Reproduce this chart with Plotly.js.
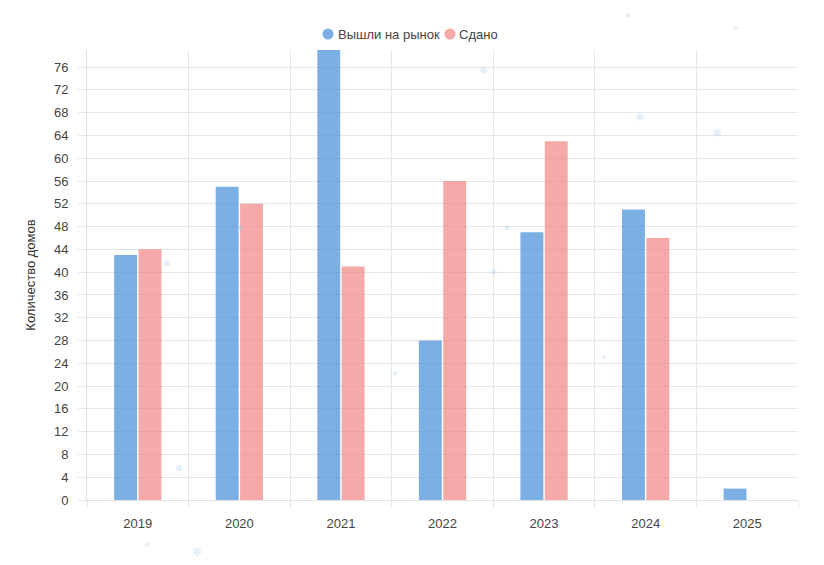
<!DOCTYPE html>
<html>
<head>
<meta charset="utf-8">
<script src="https://cdn.plot.ly/plotly-3.0.1.min.js"></script>
<style>
html,body{margin:0;padding:0;background:#fff;}
#chart{width:824px;height:565px;}
</style>
</head>
<body>
<div id="chart"></div>
<script>
const years = ["2019","2020","2021","2022","2023","2024","2025"];
const launched = [43, 55, 79, 28, 47, 51, 2];
const delivered = [44, 52, 41, 56, 63, 46, 0];
const seriesNames = ["Вышли на рынок", "Сдано"];
const yTicks = [0,4,8,12,16,20,24,28,32,36,40,44,48,52,56,60,64,68,72,76];
const colors = ["rgba(74,144,217,0.72)", "rgba(240,128,128,0.68)"];

const font = "'Liberation Sans', Arial, Helvetica, sans-serif";

const traces = [
  {type:"bar", x:years, y:launched, name:seriesNames[0],
   marker:{color:colors[0], line:{width:0}}, hoverinfo:"x+y"},
  {type:"bar", x:years, y:delivered, name:seriesNames[1],
   marker:{color:colors[1], line:{width:0}}, hoverinfo:"x+y"}
];

// plot area in pixels (for paper-coordinate decorations)
const PL = 87, PW = 711, PT = 50, PH = 450;
const px = v => (v - PL) / PW;
const py = v => (PT + PH - v) / PH;

// custom legend: circle markers + labels (Chart.js-like)
const legendItems = [{cx:328, tx:336}, {cx:450, tx:457}];
const shapes = legendItems.map((it, i) => ({
  type:"circle", xref:"paper", yref:"paper", xsizemode:"pixel", ysizemode:"pixel",
  xanchor:px(it.cx), yanchor:py(34), x0:-5.5, x1:5.5, y0:-5.5, y1:5.5,
  fillcolor:colors[i], line:{width:0}
}));
const annotations = legendItems.map((it, i) => ({
  xref:"paper", yref:"paper", x:px(it.tx), y:py(34), xanchor:"left", yanchor:"middle",
  text:seriesNames[i], showarrow:false, font:{size:13, color:"#444", family:font}
}));

// decorative faint snowflakes
const flakes = [[483,70,11],[639,117,11],[717,133,12],[167,263,10],[507,228,9],[494,272,9],
  [179,468,10],[197,552,12],[395,373,7],[147,544,7],[628,15,7],[735,28,6],[603,357,6],[240,228,9]];
flakes.forEach(f => annotations.push({xref:"paper", yref:"paper", x:px(f[0]), y:py(f[1]),
  xanchor:"center", yanchor:"middle",
  text:"❄", showarrow:false, font:{size:f[2], color:"rgba(150,200,240,0.45)"}}));

const layout = {
  width:824, height:565,
  margin:{l:PL, r:824-PL-PW, t:PT, b:565-PT-PH},
  paper_bgcolor:"#fff", plot_bgcolor:"#fff",
  font:{family:font, size:13, color:"#444"},
  barmode:"group", bargap:0.52, bargroupgap:0.06,
  showlegend:false,
  xaxis:{type:"category", tickson:"boundaries", showgrid:true, gridcolor:"#e6e6e6",
    ticks:"outside", ticklen:7, tickcolor:"#e6e6e6", showline:true, linecolor:"#e0e0e0",
    zeroline:false, tickfont:{size:13, color:"#444"}, ticklabelstandoff:11, fixedrange:true},
  yaxis:{range:[0,79], tickvals:yTicks, showgrid:true, gridcolor:"#e6e6e6",
    ticks:"outside", ticklen:8, tickcolor:"#e6e6e6", showline:true, linecolor:"#e0e0e0",
    zeroline:true, zerolinecolor:"#e0e0e0", tickfont:{size:13, color:"#444"}, ticklabelstandoff:7,
    title:{text:"Количество домов", font:{size:13, color:"#333"}, standoff:15}, fixedrange:true},
  shapes:shapes,
  annotations:annotations
};

Plotly.newPlot("chart", traces, layout, {displayModeBar:false, staticPlot:true});
</script>
</body>
</html>
